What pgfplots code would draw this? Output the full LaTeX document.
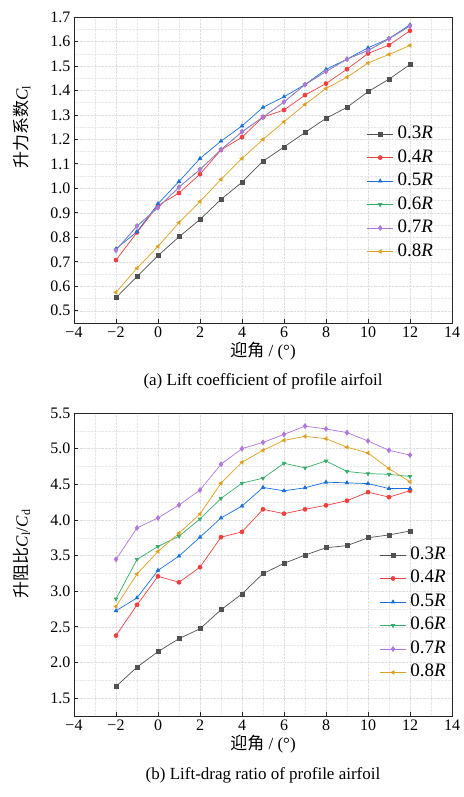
\documentclass[border=0pt]{standalone}
\usepackage{pgfplots}
\pgfplotsset{compat=1.18}
\usepackage{pgfplotstable}
\usepackage{fontspec}
\setmainfont{Liberation Serif}
\newfontfamily\cjk{Noto Sans CJK SC}
\definecolor{c3}{HTML}{515151}
\definecolor{c4}{HTML}{F14040}
\definecolor{c5}{HTML}{1A6FDF}
\definecolor{c6}{HTML}{37AD6B}
\definecolor{c7}{HTML}{B177DE}
\definecolor{c8}{HTML}{DDA020}

\pgfplotstableread{
x r3 r4 r5 r6 r7 r8
-2 0.553 0.707 0.753 0.748 0.747 0.575
-1 0.640 0.820 0.823 0.846 0.846 0.674
0 0.725 0.930 0.937 0.921 0.921 0.763
1 0.802 0.981 1.028 1.005 1.005 0.860
2 0.873 1.058 1.122 1.077 1.077 0.946
3 0.955 1.157 1.193 1.158 1.158 1.037
4 1.025 1.209 1.255 1.231 1.231 1.122
5 1.111 1.291 1.331 1.291 1.291 1.200
6 1.169 1.320 1.374 1.353 1.353 1.272
7 1.228 1.381 1.424 1.424 1.424 1.343
8 1.286 1.428 1.486 1.477 1.477 1.408
9 1.331 1.487 1.528 1.528 1.528 1.454
10 1.395 1.551 1.574 1.563 1.563 1.512
11 1.446 1.585 1.612 1.611 1.611 1.547
12 1.506 1.644 1.668 1.663 1.663 1.584
}\liftdata

\pgfplotstableread{
x r3 r4 r5 r6 r7 r8
-2 1.665 2.377 2.726 2.893 3.447 2.786
-1 1.935 2.809 2.907 3.447 3.888 3.242
0 2.153 3.209 3.293 3.628 4.028 3.558
1 2.335 3.126 3.493 3.772 4.209 3.814
2 2.474 3.337 3.758 4.014 4.419 4.084
3 2.740 3.758 4.028 4.302 4.781 4.516
4 2.963 3.833 4.195 4.516 5.000 4.809
5 3.247 4.149 4.456 4.586 5.088 4.977
6 3.391 4.088 4.409 4.795 5.200 5.116
7 3.507 4.149 4.451 4.730 5.316 5.172
8 3.610 4.205 4.530 4.828 5.277 5.140
9 3.640 4.270 4.520 4.680 5.225 5.020
10 3.750 4.390 4.510 4.650 5.108 4.940
11 3.790 4.320 4.440 4.640 4.977 4.720
12 3.845 4.410 4.440 4.610 4.910 4.535
}\ldratio

\pgfplotsset{
  common/.style={
    scale only axis,
    width=378pt,
    xmin=-4, xmax=14,
    xtick={-4,-2,...,14},
    xticklabels={−4,−2,0,2,4,6,8,10,12,14},
    minor x tick num=1,
    minor y tick num=1,
    grid=both,
    major grid style={densely dotted, gray!25, line width=0.5pt},
    minor grid style={densely dotted, gray!18, line width=0.4pt},
    tick align=inside,
    xtick pos=left, ytick pos=left,
    major tick length=4pt,
    minor tick length=0pt,
    axis line style={line width=0.9pt, black!85},
    tick style={line width=0.8pt, black!85},
    ticklabel style={font=\fontsize{16}{19}\selectfont},
    /pgf/number format/assume math mode=true,
    label style={font=\fontsize{17}{20}\selectfont},
    xlabel={{\cjk 迎角} / (°)},
    legend cell align=left,
    legend style={draw=none, fill=none, font=\fontsize{19}{22}\selectfont,
      inner sep=0pt,
      nodes={text height=13pt, text depth=4pt, inner sep=0pt},
      row sep=6.5pt,
      /tikz/every odd column/.append style={column sep=4pt}},
    legend image code/.code={%
      \draw[mark repeat=2,mark phase=2] plot coordinates {(0pt,0pt) (13pt,0pt) (26pt,0pt)};},
    every axis plot/.append style={line width=0.7pt, mark size=2pt},
  },
  s3/.style={c3, mark=square*},
  s4/.style={c4, mark=*},
  s5/.style={c5, mark=triangle*},
  s6/.style={c6, mark=triangle*, mark options={rotate=180}},
  s7/.style={c7, mark=diamond*, mark size=2.4pt},
  s8/.style={c8, mark=triangle*, mark options={rotate=90}},
}

\begin{document}
\begin{tikzpicture}
\useasboundingbox (0pt,0pt) rectangle (463pt,-797pt);
\begin{axis}[common,
  at={(74pt,-323pt)}, anchor=south west,
  height=306pt,
  ymin=0.45, ymax=1.7,
  ytick={0.5,0.6,...,1.7},
  yticklabel style={/pgf/number format/.cd, fixed, fixed zerofill, precision=1},
  ylabel={{\cjk 升力系数}\textit{C}\textsubscript{l}},
  ylabel style={at={(axis description cs:-0.138,0.64)}, anchor=center},
  xlabel style={yshift=2pt},
  legend style={at={(0.95,0.205)}, anchor=south east},
]
\addplot[s3] table[x=x,y=r3]{\liftdata};
\addplot[s4] table[x=x,y=r4]{\liftdata};
\addplot[s5] table[x=x,y=r5]{\liftdata};
\addplot[s6] table[x=x,y=r6]{\liftdata};
\addplot[s7] table[x=x,y=r7]{\liftdata};
\addplot[s8] table[x=x,y=r8]{\liftdata};
\legend{0.3\textit{R},0.4\textit{R},0.5\textit{R},0.6\textit{R},0.7\textit{R},0.8\textit{R}}
\end{axis}
\node[font=\fontsize{17}{20}\selectfont] at (263pt,-381pt) {(a) Lift coefficient of profile airfoil};

\begin{axis}[common,
  at={(74pt,-716pt)}, anchor=south west,
  height=303pt,
  ymin=1.25, ymax=5.5,
  ytick={1.5,2.0,...,5.5},
  yticklabel style={/pgf/number format/.cd, fixed, fixed zerofill, precision=1},
  ylabel={{\cjk 升阻比}\textit{C}\textsubscript{l}/\textit{C}\textsubscript{d}},
  ylabel style={at={(axis description cs:-0.138,0.535)}, anchor=center},
  xlabel style={yshift=2pt},
  legend style={at={(0.984,0.115)}, anchor=south east},
]
\addplot[s3] table[x=x,y=r3]{\ldratio};
\addplot[s4] table[x=x,y=r4]{\ldratio};
\addplot[s5] table[x=x,y=r5]{\ldratio};
\addplot[s6] table[x=x,y=r6]{\ldratio};
\addplot[s7] table[x=x,y=r7]{\ldratio};
\addplot[s8] table[x=x,y=r8]{\ldratio};
\legend{0.3\textit{R},0.4\textit{R},0.5\textit{R},0.6\textit{R},0.7\textit{R},0.8\textit{R}}
\end{axis}
\node[font=\fontsize{17}{20}\selectfont] at (263pt,-775pt) {(b) Lift-drag ratio of profile airfoil};
\end{tikzpicture}
\end{document}
